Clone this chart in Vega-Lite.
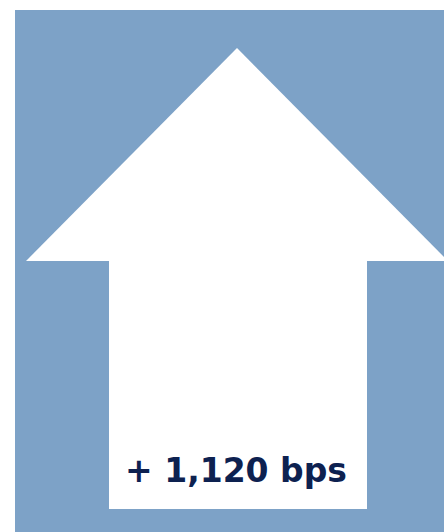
{
  "$schema": "https://vega.github.io/schema/vega-lite/v6.json",
  "width": 444,
  "height": 532,
  "autosize": {"type": "fit", "contains": "padding"},
  "padding": 0,
  "background": "white",
  "config": {"view": {"stroke": null}},
  "layer": [
    {
      "data": {"values": [{"part": "panel", "x": 15, "x2": 444, "y": 10, "y2": 532}]},
      "mark": {"type": "rect", "color": "#7DA2C7"},
      "encoding": {
        "x": {"field": "x", "type": "quantitative", "scale": {"domain": [0, 444], "nice": false}, "axis": null},
        "x2": {"field": "x2"},
        "y": {"field": "y", "type": "quantitative", "scale": {"domain": [0, 532], "nice": false, "reverse": true}, "axis": null},
        "y2": {"field": "y2"}
      }
    },
    {
      "data": {"values": [{"part": "shaft", "x": 109, "x2": 367, "y": 260, "y2": 509}]},
      "mark": {"type": "rect", "color": "white"},
      "encoding": {
        "x": {"field": "x", "type": "quantitative"},
        "x2": {"field": "x2"},
        "y": {"field": "y", "type": "quantitative"},
        "y2": {"field": "y2"}
      }
    },
    {
      "data": {"values": [
        {"x": 26, "y": 261, "base": 261},
        {"x": 237, "y": 48, "base": 261},
        {"x": 448, "y": 261, "base": 261}
      ]},
      "mark": {"type": "area", "color": "white", "clip": true, "opacity": 1},
      "encoding": {
        "x": {"field": "x", "type": "quantitative"},
        "y": {"field": "y", "type": "quantitative"},
        "y2": {"field": "base"}
      }
    },
    {
      "data": {"values": [{"label": "+ 1,120 bps", "x": 236, "y": 482}]},
      "mark": {"type": "text", "font": "DejaVu Sans", "fontWeight": "bold", "fontSize": 33, "color": "#0D2150", "align": "center", "baseline": "alphabetic"},
      "encoding": {
        "x": {"field": "x", "type": "quantitative"},
        "y": {"field": "y", "type": "quantitative"},
        "text": {"field": "label"}
      }
    }
  ]
}
